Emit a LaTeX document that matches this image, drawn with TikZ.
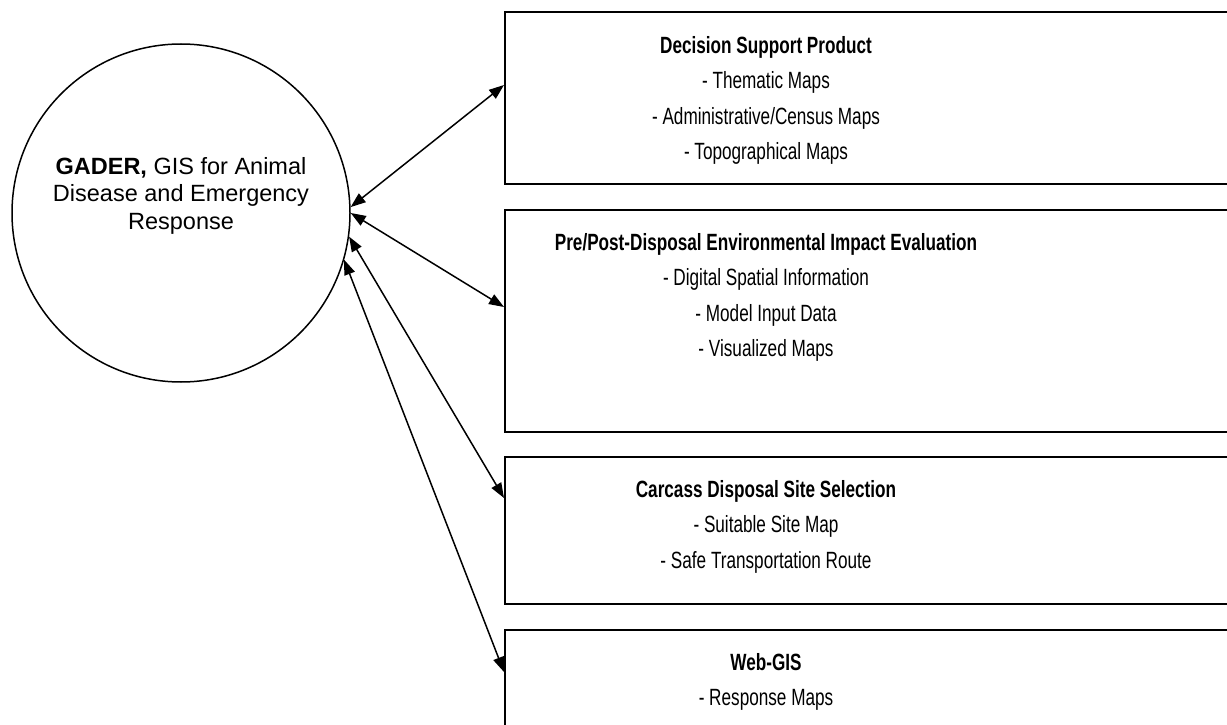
\documentclass[tikz,border=0pt]{standalone}
\usepackage{fontspec}
\setmainfont{Liberation Sans}
\newfontfamily\narrowfont{Liberation Sans}[FakeStretch=0.73]
\usetikzlibrary{positioning, arrows.meta}

\begin{document}
\begin{tikzpicture}[
    x=1pt, y=-1pt,
    gader_circle/.style={circle, draw=black, line width=1.5pt, minimum size=338pt, inner sep=0pt},
    gader_text/.style={align=center, inner sep=0pt, anchor=north, font=\fontsize{23.5}{27.5}\selectfont},
    product_box/.style={rectangle, draw=black, line width=2pt, minimum width=760pt, anchor=north west, inner sep=0pt},
    product_text/.style={align=center, inner sep=0pt, anchor=north, font=\narrowfont\fontsize{23.5}{35.5}\selectfont},
    link_arrow/.style={{Triangle[length=15pt, width=11pt]}-{Triangle[length=15pt, width=11pt]}, line width=1.5pt}
]
\useasboundingbox (0, 0) rectangle (1227, 725);
\clip (0, 0) rectangle (1227, 725);

% Left: GADER
\node[gader_circle] (gader) at (181, 213) {};
\node[gader_text] (gader_label) at (181, 157) {\textbf{GADER,} GIS for Animal\\Disease and Emergency\\Response};

% Right: products
\node[product_box, minimum height=172pt] (decision_box) at (504, 11) {};
\node[product_text] (decision_text) at (766, 36) {\textbf{Decision Support Product}\\- Thematic Maps\\- Administrative/Census Maps\\- Topographical Maps};

\node[product_box, minimum height=222pt] (impact_box) at (504, 209) {};
\node[product_text] (impact_text) at (766, 233) {\textbf{Pre/Post-Disposal Environmental Impact Evaluation}\\- Digital Spatial Information\\- Model Input Data\\- Visualized Maps};

\node[product_box, minimum height=147pt] (carcass_box) at (504, 456) {};
\node[product_text] (carcass_text) at (766, 480) {\textbf{Carcass Disposal Site Selection}\\- Suitable Site Map\\- Safe Transportation Route};

\node[product_box, minimum height=140pt] (webgis_box) at (504, 629) {};
\node[product_text] (webgis_text) at (766, 653) {\textbf{Web-GIS}\\- Response Maps};

% Arrows
\draw[link_arrow] (gader.2) -- ([yshift=-74pt]decision_box.north west);
\draw[link_arrow] (gader.0) -- ([yshift=-98pt]impact_box.north west);
\draw[link_arrow] (gader.-8) -- ([yshift=-42pt]carcass_box.north west);
\draw[link_arrow] (gader.-16) -- ([yshift=-43pt]webgis_box.north west);

\end{tikzpicture}
\end{document}
